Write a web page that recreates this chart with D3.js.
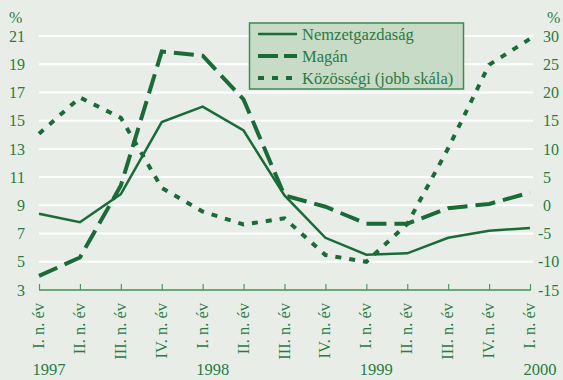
<!DOCTYPE html>
<html>
<head>
<meta charset="utf-8">
<script src="https://cdn.jsdelivr.net/npm/d3@7"></script>
<style>
  html, body { margin: 0; padding: 0; background: #e8eee7; }
  svg { display: block; }
  text { font-family: "Liberation Serif", "Times New Roman", serif; fill: #2a7a44; }
</style>
</head>
<body>
<svg id="chart" width="563" height="380"></svg>
<script>
// Quarters and year markers
const quarters = ["I. n. év", "II. n. év", "III. n. év", "IV. n. év",
                  "I. n. év", "II. n. év", "III. n. év", "IV. n. év",
                  "I. n. év", "II. n. év", "III. n. év", "IV. n. év",
                  "I. n. év"];
const years = [{ label: "1997", at: 0 }, { label: "1998", at: 4 },
               { label: "1999", at: 8 }, { label: "2000", at: 12 }];

// Series (percent)
const nemzetgazdasag = [8.4, 7.8, 9.8, 14.9, 16.0, 14.3, 9.7, 6.7, 5.5, 5.6, 6.7, 7.2, 7.4];
const magan          = [4.0, 5.3, 10.4, 19.9, 19.6, 16.5, 9.7, 8.9, 7.7, 7.7, 8.8, 9.1, 9.9];
const kozossegi      = [12.7, 19.1, 15.5, 3.1, -1.1, -3.4, -2.3, -8.8, -10.0, -3.3, 10.1, 24.9, 29.5];

// Axis ticks
const leftTicks  = [3, 5, 7, 9, 11, 13, 15, 17, 19, 21];
const rightTicks = [-15, -10, -5, 0, 5, 10, 15, 20, 25, 30];

const legendItems = [
  { label: "Nemzetgazdaság", dash: null, width: 2.5 },
  { label: "Magán", dash: "20,6", width: 4 },
  { label: "Közösségi (jobb skála)", dash: "6,8", width: 4 }
];

const lineColor = "#1b6b38";
const svg = d3.select("#chart");

const x = d3.scalePoint().domain(d3.range(quarters.length)).range([39, 530]);
const yL = d3.scaleLinear().domain([3, 21]).range([290, 36]);
const yR = d3.scaleLinear().domain([-15, 30]).range([290, 36]);

// Horizontal gridlines
svg.append("g").selectAll("line")
  .data(leftTicks.slice(1))
  .join("line")
  .attr("x1", 39).attr("x2", 533)
  .attr("y1", d => yL(d)).attr("y2", d => yL(d))
  .attr("stroke", "#ffffff").attr("stroke-width", 2);

// Left axis labels
const leftAxis = d3.axisLeft(yL).tickValues(leftTicks).tickSize(0).tickPadding(0);
const gl = svg.append("g").attr("transform", "translate(25,0)").call(leftAxis);
gl.select(".domain").remove();
gl.selectAll("text").style("font-size", "16px").attr("font-family", null).attr("fill", null);

// Right axis labels (minus sign hangs to the left)
const rightAxis = d3.axisRight(yR).tickValues(rightTicks).tickSize(0).tickPadding(0)
  .tickFormat(d => d < 0 ? "-" + Math.abs(d) : String(d));
const gr = svg.append("g").attr("transform", "translate(543,0)").call(rightAxis);
gr.select(".domain").remove();
gr.selectAll("text").style("font-size", "16px").attr("font-family", null).attr("fill", null)
  .attr("x", d => d < 0 ? -5 : 0);

// Unit labels
svg.append("text").attr("x", 9).attr("y", 23).style("font-size", "16px").text("%");
svg.append("text").attr("x", 547).attr("y", 23).style("font-size", "16px").text("%");

// X axis baseline and ticks
const xAxis = d3.axisTop(x).tickSize(6).tickFormat("");
const gx = svg.append("g").attr("transform", "translate(0,290)").call(xAxis);
gx.select(".domain").attr("d", "M39,0H531").attr("stroke", "#6aa878").attr("stroke-width", 2);
gx.selectAll(".tick line").attr("stroke", "#4f9562").attr("stroke-width", 1.2);

// Quarter labels (rotated)
svg.append("g").selectAll("text")
  .data(quarters)
  .join("text")
  .attr("transform", (d, i) => `translate(${x(i) + 5},303) rotate(-90)`)
  .attr("text-anchor", "end")
  .style("font-size", "16.5px")
  .text(d => d);

// Year labels
svg.append("g").selectAll("text")
  .data(years)
  .join("text")
  .attr("x", d => x(d.at) + 10)
  .attr("y", 375)
  .attr("text-anchor", "middle")
  .style("font-size", "16.5px")
  .text(d => d.label);

// Series lines
const lineL = d3.line().x((d, i) => x(i)).y(d => yL(d));
const lineR = d3.line().x((d, i) => x(i)).y(d => yR(d));

svg.append("path").datum(kozossegi).attr("d", lineR)
  .attr("fill", "none").attr("stroke", lineColor).attr("stroke-width", 4)
  .attr("stroke-dasharray", "6,8");
svg.append("path").datum(magan).attr("d", lineL)
  .attr("fill", "none").attr("stroke", lineColor).attr("stroke-width", 4)
  .attr("stroke-dasharray", "20,8");
svg.append("path").datum(nemzetgazdasag).attr("d", lineL)
  .attr("fill", "none").attr("stroke", lineColor).attr("stroke-width", 2.5);

// Legend
const lg = svg.append("g");
lg.append("rect").attr("x", 249.5).attr("y", 23).attr("width", 214).attr("height", 66)
  .attr("fill", "#c8dbc7").attr("stroke", "#3d8a52").attr("stroke-width", 1.5);
legendItems.forEach((it, i) => {
  const yy = 34 + i * 22;
  lg.append("line").attr("x1", 258).attr("x2", 297).attr("y1", yy).attr("y2", yy)
    .attr("stroke", lineColor).attr("stroke-width", it.width)
    .attr("stroke-dasharray", it.dash);
  lg.append("text").attr("x", 302).attr("y", yy + 6).style("font-size", "16.5px").text(it.label);
});
</script>
</body>
</html>
